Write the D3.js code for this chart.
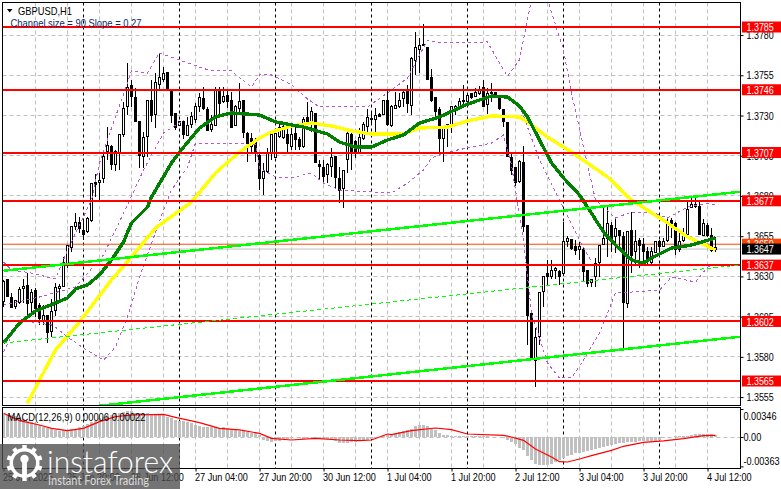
<!DOCTYPE html>
<html><head><meta charset="utf-8"><title>GBPUSD,H1</title>
<script src="https://cdnjs.cloudflare.com/ajax/libs/d3/7.8.5/d3.min.js"></script>
<style>html,body{margin:0;padding:0;background:#fff;overflow:hidden}svg{display:block}</style></head>
<body><div id="chart"></div>
<script>
const openP=[1.36143,1.36281,1.36170,1.36116,1.36136,1.36226,1.36246,1.36136,1.36211,1.36122,
1.36029,1.36055,1.35956,1.36086,1.36224,1.36239,1.36381,1.36481,1.36613,1.36634,
1.36588,1.36577,1.36646,1.36886,1.36882,1.36907,1.37074,1.37110,1.36996,1.37065,
1.37185,1.37355,1.37489,1.37413,1.37262,1.37044,1.37172,1.37396,1.37309,1.37490,
1.37524,1.37570,1.37458,1.37313,1.37239,1.37260,1.37177,1.37241,1.37276,1.37359,
1.37406,1.37338,1.37210,1.37239,1.37463,1.37384,1.37427,1.37396,1.37235,1.37344,
1.37392,1.37189,1.37158,1.37148,1.37054,1.36911,1.36951,1.37061,1.37040,1.37172,
1.37164,1.37185,1.37110,1.37189,1.37148,1.37106,1.37289,1.37255,1.37313,1.36998,
1.36978,1.36936,1.36982,1.37048,1.36911,1.36845,1.37027,1.37179,1.37139,1.37065,
1.37156,1.37230,1.37276,1.37276,1.37309,1.37305,1.37392,1.37235,1.37342,1.37355,
1.37405,1.37458,1.37363,1.37641,1.37713,1.37744,1.37724,1.37537,1.37413,1.37338,
1.37156,1.37241,1.37235,1.37334,1.37342,1.37396,1.37386,1.37438,1.37421,1.37434,
1.37475,1.37371,1.37442,1.37442,1.37413,1.37338,1.37257,1.37040,1.36978,1.36889,
1.37011,1.36619,1.36070,1.35780,1.35929,1.36205,1.36319,1.36302,1.36339,1.36333,
1.36319,1.36516,1.36530,1.36485,1.36468,1.36468,1.36339,1.36265,1.36298,1.36385,
1.36499,1.36537,1.36619,1.36547,1.36588,1.36551,1.36132,1.36588,1.36454,1.36526,
1.36501,1.36454,1.36385,1.36447,1.36515,1.36485,1.36526,1.36650,1.36630,1.36468,
1.36526,1.36563,1.36727,1.36750,1.36737,1.36557,1.36619,1.36557,1.36480];
const highP=[1.36277,1.36281,1.36198,1.36153,1.36232,1.36287,1.36319,1.36219,1.36226,1.36132,
1.36122,1.36060,1.36157,1.36257,1.36253,1.36418,1.36489,1.36613,1.36696,1.36667,
1.36650,1.36671,1.36878,1.36936,1.36940,1.37065,1.37230,1.37116,1.37085,1.37179,
1.37386,1.37624,1.37520,1.37469,1.37262,1.37199,1.37396,1.37520,1.37562,1.37686,
1.37603,1.37570,1.37458,1.37313,1.37260,1.37260,1.37293,1.37324,1.37375,1.37438,
1.37475,1.37355,1.37303,1.37475,1.37475,1.37475,1.37458,1.37448,1.37365,1.37500,
1.37392,1.37200,1.37189,1.37158,1.37065,1.37003,1.37096,1.37210,1.37199,1.37251,
1.37262,1.37262,1.37241,1.37241,1.37168,1.37289,1.37386,1.37351,1.37313,1.37023,
1.37023,1.37003,1.37096,1.37048,1.36982,1.36961,1.37210,1.37200,1.37148,1.37220,
1.37262,1.37338,1.37313,1.37344,1.37313,1.37396,1.37462,1.37365,1.37448,1.37438,
1.37462,1.37490,1.37661,1.37817,1.37780,1.37869,1.37724,1.37587,1.37417,1.37351,
1.37226,1.37241,1.37359,1.37363,1.37406,1.37487,1.37442,1.37442,1.37469,1.37483,
1.37520,1.37469,1.37500,1.37442,1.37427,1.37338,1.37257,1.37075,1.36982,1.37023,
1.37110,1.36619,1.36080,1.35977,1.36203,1.36302,1.36402,1.36402,1.36360,1.36339,
1.36640,1.36551,1.36530,1.36526,1.36515,1.36485,1.36339,1.36281,1.36413,1.36495,
1.36737,1.36733,1.36640,1.36661,1.36588,1.36577,1.36577,1.36702,1.36588,1.36537,
1.36537,1.36485,1.36485,1.36515,1.36526,1.36537,1.36661,1.36661,1.36640,1.36567,
1.36599,1.36764,1.36800,1.36800,1.36764,1.36654,1.36630,1.36599,1.36547];
const lowP=[1.36112,1.36178,1.36105,1.36099,1.36128,1.36132,1.36049,1.36080,1.36049,1.35997,
1.35997,1.35888,1.35925,1.36054,1.36153,1.36232,1.36350,1.36454,1.36588,1.36567,
1.36526,1.36567,1.36640,1.36795,1.36770,1.36878,1.37023,1.36961,1.36957,1.36961,
1.37168,1.37303,1.37355,1.37262,1.36971,1.36971,1.37044,1.37262,1.37220,1.37458,
1.37510,1.37458,1.37251,1.37210,1.37235,1.37152,1.37172,1.37220,1.37251,1.37324,
1.37334,1.37206,1.37200,1.37235,1.37303,1.37375,1.37344,1.37222,1.37235,1.37313,
1.37158,1.37013,1.37075,1.37013,1.36837,1.36806,1.36940,1.37023,1.37034,1.37158,
1.37156,1.37065,1.37085,1.37085,1.37085,1.37096,1.37241,1.37199,1.37003,1.36899,
1.36889,1.36878,1.36920,1.36847,1.36759,1.36725,1.36940,1.36961,1.37034,1.37065,
1.37148,1.37200,1.37241,1.37200,1.37289,1.37303,1.37235,1.37226,1.37342,1.37344,
1.37355,1.37313,1.37303,1.37552,1.37562,1.37732,1.37520,1.37386,1.37272,1.37065,
1.37013,1.37106,1.37189,1.37303,1.37334,1.37355,1.37386,1.37404,1.37417,1.37427,
1.37359,1.37309,1.37386,1.37413,1.37334,1.37230,1.37044,1.36930,1.36862,1.36878,
1.36577,1.35873,1.35790,1.35610,1.35873,1.36112,1.36246,1.36287,1.36287,1.36246,
1.36302,1.36485,1.36464,1.36433,1.36402,1.36267,1.36236,1.36232,1.36236,1.36298,
1.36495,1.36422,1.36454,1.36443,1.36485,1.35847,1.36102,1.36319,1.36370,1.36350,
1.36392,1.36370,1.36376,1.36443,1.36454,1.36480,1.36515,1.36537,1.36433,1.36454,
1.36515,1.36563,1.36723,1.36723,1.36557,1.36551,1.36547,1.36454,1.36454];
const closeP=[1.36267,1.36178,1.36109,1.36153,1.36219,1.36236,1.36132,1.36203,1.36101,1.36037,
1.36060,1.35950,1.36082,1.36232,1.36236,1.36388,1.36489,1.36613,1.36634,1.36597,
1.36563,1.36661,1.36878,1.36874,1.36899,1.37048,1.37116,1.36998,1.37075,1.37179,
1.37344,1.37475,1.37421,1.37262,1.37054,1.37164,1.37392,1.37303,1.37504,1.37537,
1.37558,1.37463,1.37303,1.37228,1.37260,1.37185,1.37239,1.37293,1.37355,1.37413,
1.37342,1.37206,1.37247,1.37463,1.37375,1.37417,1.37386,1.37226,1.37359,1.37386,
1.37193,1.37127,1.37106,1.37061,1.36909,1.36949,1.37065,1.37179,1.37189,1.37226,
1.37230,1.37123,1.37179,1.37152,1.37106,1.37276,1.37255,1.37324,1.37007,1.36982,
1.36924,1.36998,1.37040,1.36916,1.36833,1.36957,1.37189,1.37065,1.37069,1.37164,
1.37247,1.37289,1.37280,1.37297,1.37293,1.37392,1.37241,1.37359,1.37363,1.37396,
1.37446,1.37375,1.37655,1.37724,1.37738,1.37732,1.37524,1.37392,1.37324,1.37160,
1.37226,1.37220,1.37355,1.37355,1.37388,1.37392,1.37427,1.37409,1.37446,1.37463,
1.37359,1.37438,1.37434,1.37413,1.37342,1.37262,1.37044,1.36961,1.36882,1.37015,
1.36609,1.36054,1.35790,1.35920,1.36198,1.36302,1.36302,1.36339,1.36348,1.36302,
1.36520,1.36537,1.36474,1.36464,1.36485,1.36329,1.36253,1.36281,1.36381,1.36489,
1.36537,1.36630,1.36530,1.36599,1.36557,1.36136,1.36577,1.36433,1.36516,1.36489,
1.36454,1.36392,1.36454,1.36515,1.36485,1.36520,1.36636,1.36613,1.36468,1.36515,
1.36563,1.36717,1.36750,1.36733,1.36561,1.36630,1.36557,1.36462,1.36467];

const greenBars=[0,4,8,12,16,18,21,24,27,30,32,36,37,42,44,49,53,57,64,68,75,81,84,88,92,96,100,104,109,116,122,126,129,131,134,137,140,144,146,150,153,157,160,162,167,172,178];
const greenMA=[1.35886,1.36010,1.36085,1.36125,1.36166,1.36222,1.36247,1.36309,1.36402,1.36514,1.36632,1.36731,1.36793,1.37005,1.37073,1.37222,1.37291,1.37316,1.37303,1.37260,1.37228,1.37185,1.37135,1.37104,1.37104,1.37148,1.37179,1.37253,1.37291,1.37371,1.37421,1.37415,1.37359,1.37291,1.37148,1.37005,1.36912,1.36806,1.36731,1.36576,1.36495,1.36402,1.36383,1.36414,1.36476,1.36495,1.36539];
const yellowBars=[6,9,13,19,27,32,38,47,53,59,64,67,72,77,82,87,92,100,104,111,116,122,129,131,136,142,151,157,166,171,178];
const yellowMA=[1.35513,1.35656,1.35843,1.36017,1.36278,1.36421,1.36601,1.36762,1.36943,1.37073,1.37160,1.37197,1.37235,1.37253,1.37235,1.37204,1.37185,1.37185,1.37222,1.37228,1.37266,1.37297,1.37291,1.37260,1.37166,1.37073,1.36918,1.36775,1.36632,1.36545,1.36464];
const upperBars=[0,2,7,13,16,22,24,27,31,32,36,39,44,49,52,57,62,64,67,72,76,79,86,91,97,101,106,109,121,124,126,129,132,136,140,142,145,148,150,153,157,162,166,171,176,178];
const upperBand=[1.36390,1.36340,1.36321,1.36284,1.36464,1.36775,1.37005,1.37222,1.37502,1.37577,1.37564,1.37688,1.37645,1.37601,1.37577,1.37577,1.37477,1.37552,1.37552,1.37490,1.37403,1.37353,1.37359,1.37353,1.37458,1.37533,1.37769,1.37751,1.37757,1.37626,1.37545,1.37645,1.38020,1.38020,1.37707,1.37440,1.37104,1.36775,1.36731,1.36663,1.36700,1.36700,1.36663,1.36731,1.36756,1.36744];
const lowerBars=[0,4,12,13,16,20,25,28,31,34,40,42,46,48,54,57,63,64,68,72,77,80,84,92,97,101,105,107,111,116,122,125,127,130,132,136,139,142,145,149,153,157,164,167,173,176,178];
const lowerBand=[1.35830,1.36029,1.35998,1.35985,1.35923,1.35855,1.35780,1.35861,1.36048,1.36296,1.36713,1.36837,1.36980,1.37129,1.37129,1.37129,1.37117,1.36974,1.36918,1.36912,1.36943,1.36880,1.36837,1.36825,1.36818,1.36880,1.36961,1.37036,1.37073,1.37098,1.37129,1.37179,1.36992,1.36526,1.36073,1.35762,1.35669,1.35669,1.35780,1.35948,1.36197,1.36203,1.36215,1.36296,1.36265,1.36358,1.36371];
const middleBarsA=[0,9,18,25,31,35,40,45];
const middleBandA=[1.36122,1.36172,1.36234,1.36433,1.36744,1.36961,1.37191,1.37272];
const middleBarsB=[129,134,139,144,147];
const middleBandB=[1.37365,1.37023,1.36775,1.36526,1.36390];

const channelBars=[0,184.125];
const channelTop=[1.36335,1.36826];
const channelMid=[1.35886,1.36371];
const channelLow=[1.35432,1.35925];

const levelPrices=[1.3785,1.3746,1.3707,1.3677,1.3637,1.3602,1.3565];
const askPrice=1.3650, bidPrice=1.3647;
const priceTicks=[1.3780,1.3755,1.3730,1.3705,1.3680,1.3655,1.3630,1.3605,1.3580,1.3555];
const gridBars=[8,16,24,32,40,48,56,64,72,80,88,96,104,112,120,128,136,144,152,160,168,176];
const daySepBars=[20,44,68,92,116,140,164];
const timeBars=[0,16,32,48,64,80,96,112,128,144,160,176];
const timeLabels=["25 Jun 2025","25 Jun 20:00","26 Jun 12:00","27 Jun 04:00","27 Jun 20:00","30 Jun 12:00","1 Jul 04:00","1 Jul 20:00","2 Jul 12:00","3 Jul 04:00","3 Jul 20:00","4 Jul 12:00"];

// MACD histogram, one value per bar, in units of 0.00001
const macdHist=[284,276,268,260,243,218,202,185,161,144,128,111,95,87,78,87,87,95,103,128,
136,161,185,202,235,251,268,276,293,301,309,325,325,301,301,284,293,284,284,268,
268,251,235,210,202,194,185,177,152,136,128,119,119,119,111,119,111,103,87,78,
78,62,54,45,29,-37,-54,-62,-54,-45,-29,-29,-12,-4,-12,-21,-12,-4,-21,-21,
-21,-29,-37,-54,-70,-78,-70,-62,-62,-54,-45,-37,-21,-4,-4,21,29,33,54,62,
70,91,103,132,144,148,136,115,82,49,29,21,16,8,16,12,8,12,8,12,
8,8,4,4,0,-12,-37,-66,-91,-136,-157,-239,-288,-334,-346,-350,-342,-330,-309,-284,
-260,-239,-222,-202,-194,-185,-173,-161,-148,-136,-124,-111,-99,-87,-78,-74,-66,-62,-58,-54,
-54,-49,-49,-49,-41,-12,-4,0,8,8,8,16,29,41,41,41,41,37,29];
const macdBars=[0,4,9,12,16,20,24,28,32,40,43,49,54,59,64,67,72,78,84,89,92,96,97,102,108,112,116,125,127,130,133,137,139,141,144,147,152,155,160,165,170,175,178];
const macdSignal=[293,202,148,107,78,107,190,251,272,280,243,177,107,87,45,-16,-37,-16,-37,-45,-37,37,29,78,111,91,37,21,0,-41,-148,-247,-305,-309,-272,-231,-165,-115,-66,-49,-21,16,21];
const macdTicks=[0.00346,0,-0.00363];
const macdTickLabels=["0.00346","0.00","-0.00363"];

const W=781,H=489;
const paneL=2.5,paneR=740.5,paneT=2.5,paneB=405.5,macdT=407.5,macdB=468.5;
const svg=d3.select("#chart").append("svg").attr("width",W).attr("height",H).attr("viewBox",[0,0,W,H]);
const FONT='"Liberation Sans",Arial,sans-serif';
const x=d3.scaleLinear().domain([0,184.125]).range([3.5,740]);
const y=d3.scaleLinear().domain([1.3785,1.3565]).range([27,381]);
const ym=d3.scaleLinear().domain([0,0.00346]).range([437,409]);

// narrows real text horizontally, as the terminal's compact UI font does
const squeeze=(sel,ratio)=>sel.each(function(){
 const w=this.getComputedTextLength();
 d3.select(this).attr("textLength",w*ratio).attr("lengthAdjust","spacingAndGlyphs");
});

svg.append("defs").append("clipPath").attr("id","cMain").append("rect").attr("x",paneL).attr("y",paneT).attr("width",paneR-paneL).attr("height",paneB-paneT);
svg.select("defs").append("clipPath").attr("id","cMacd").append("rect").attr("x",paneL).attr("y",macdT).attr("width",paneR-paneL).attr("height",macdB-macdT);

const snap=v=>Math.floor(v)+0.5;
const main=svg.append("g").attr("clip-path","url(#cMain)");
const macd=svg.append("g").attr("clip-path","url(#cMacd)");

// grids
main.selectAll("line.hg").data(priceTicks).join("line").attr("x1",paneL).attr("x2",paneR)
 .attr("y1",d=>snap(y(d))).attr("y2",d=>snap(y(d))).attr("stroke","#c0c0c0").attr("stroke-dasharray","4,3");
[[main,paneT,paneB],[macd,macdT,macdB]].forEach(([g,a,b])=>{
 g.selectAll("line.vg").data(gridBars).join("line").attr("class","vg").attr("x1",d=>snap(x(d))).attr("x2",d=>snap(x(d)))
  .attr("y1",a).attr("y2",b).attr("stroke","#c0c0c0").attr("stroke-dasharray","4,3");
 g.selectAll("line.ds").data(daySepBars).join("line").attr("class","ds").attr("x1",d=>snap(x(d))).attr("x2",d=>snap(x(d)))
  .attr("y1",a).attr("y2",b).attr("stroke","#000").attr("stroke-dasharray","3,3");
});
macd.append("line").attr("x1",paneL).attr("x2",paneR).attr("y1",snap(ym(0))).attr("y2",snap(ym(0))).attr("stroke","#c0c0c0").attr("stroke-dasharray","4,3");

// ask / bid lines
main.append("line").attr("x1",paneL).attr("x2",paneR).attr("y1",y(bidPrice)).attr("y2",y(bidPrice)).attr("stroke","#c0c0c0");
main.append("line").attr("x1",paneL).attr("x2",paneR).attr("y1",y(askPrice)).attr("y2",y(askPrice)).attr("stroke","#ff4500");

// candles
const bars=d3.range(openP.length);
main.append("g").attr("shape-rendering","crispEdges").selectAll("line").data(bars).join("line")
 .attr("x1",d=>snap(x(d))).attr("x2",d=>snap(x(d))).attr("y1",d=>y(highP[d])).attr("y2",d=>y(lowP[d])).attr("stroke","#000");
main.append("g").attr("shape-rendering","crispEdges").selectAll("rect").data(bars).join("rect")
 .attr("x",d=>snap(x(d))-1).attr("width",2)
 .attr("y",d=>y(Math.max(openP[d],closeP[d])))
 .attr("height",d=>Math.max(1,Math.abs(y(openP[d])-y(closeP[d]))))
 .attr("fill",d=>closeP[d]>=openP[d]?"#fff":"#000").attr("stroke","#000");

// overlays
const path=(bs,vs,sc)=>d3.line().x((d,i)=>x(bs[i])).y(d=>sc(d))(vs);
[[upperBars,upperBand],[lowerBars,lowerBand],[middleBarsA,middleBandA],[middleBarsB,middleBandB]].forEach(([b,v])=>{
 main.append("path").attr("d",path(b,v,y)).attr("fill","none").attr("stroke","#ba55d3").attr("stroke-dasharray","3,3").attr("shape-rendering","crispEdges");
});
main.append("path").attr("d",path(yellowBars,yellowMA,y)).attr("fill","none").attr("stroke","#ffff00").attr("stroke-width",3.4).attr("shape-rendering","crispEdges");
main.append("path").attr("d",path(greenBars,greenMA,y)).attr("fill","none").attr("stroke","#008000").attr("stroke-width",3.4).attr("shape-rendering","crispEdges");

// levels
main.selectAll("line.lv").data(levelPrices).join("line").attr("x1",paneL).attr("x2",paneR)
 .attr("y1",d=>y(d)).attr("y2",d=>y(d)).attr("stroke","#ff0000").attr("stroke-width",2).attr("shape-rendering","crispEdges");

// channel
[channelTop,channelLow].forEach(v=>main.append("path").attr("d",path(channelBars,v,y)).attr("fill","none").attr("stroke","#00ff00").attr("stroke-width",2.5).attr("shape-rendering","crispEdges"));
main.append("path").attr("d",path(channelBars,channelMid,y)).attr("fill","none").attr("stroke","#00ff00").attr("stroke-dasharray","4,3").attr("shape-rendering","crispEdges");

// MACD
macd.append("g").attr("shape-rendering","crispEdges").selectAll("rect").data(macdHist).join("rect")
 .attr("x",(d,i)=>snap(x(i))-1.5).attr("width",3)
 .attr("y",d=>Math.min(ym(d/1e5),ym(0))).attr("height",d=>Math.abs(ym(d/1e5)-ym(0)))
 .attr("fill","#c0c0c0");
macd.append("path").attr("d",path(macdBars,macdSignal.map(v=>v/1e5),ym)).attr("fill","none").attr("stroke","#ff0000").attr("stroke-width",1.2);

// frames
[[paneT,paneB],[macdT,macdB]].forEach(([a,b])=>svg.append("rect").attr("x",paneL).attr("y",a).attr("width",paneR-paneL).attr("height",b-a).attr("fill","none").attr("stroke","#000").attr("shape-rendering","crispEdges"));

// axes
const axR=d3.axisRight(y).tickValues(priceTicks).tickFormat(d3.format(".4f")).tickSize(3).tickPadding(3);
const gR=svg.append("g").attr("transform",`translate(${paneR},0)`).call(axR);
gR.select(".domain").remove();
gR.selectAll("text").attr("font-family",FONT).attr("font-size",11).attr("fill","#000").call(squeeze,0.81);
gR.selectAll("line").attr("stroke","#000");

const axM=d3.axisRight(ym).tickValues(macdTicks).tickFormat((d,i)=>macdTickLabels[i]).tickSize(3).tickPadding(0);
const gM=svg.append("g").attr("transform",`translate(${paneR},0)`).call(axM);
gM.select(".domain").remove();
gM.selectAll("text").attr("font-family",FONT).attr("font-size",11).attr("fill","#000").attr("dy",(d,i)=>i==0?"0.95em":i==2?"-0.15em":"0.32em").call(squeeze,0.83);
gM.selectAll("line").attr("stroke","#000");

const axB=d3.axisBottom(x).tickValues(timeBars).tickFormat((d,i)=>timeLabels[i]).tickSize(3).tickPadding(2);
const gB=svg.append("g").attr("transform",`translate(0,${macdB})`).call(axB);
gB.select(".domain").remove();
gB.selectAll("text").attr("font-family",FONT).attr("font-size",11).attr("fill","#000").attr("text-anchor","start").attr("dx",-1).call(squeeze,0.83);
gB.selectAll("line").attr("stroke","#000");

// price tags
const tag=(p,fill,cy,h,label)=>{
 svg.append("rect").attr("x",742).attr("y",cy-h/2).attr("width",39).attr("height",h).attr("fill",fill);
 if(label) svg.append("text").attr("x",746.5).attr("y",cy+0.5).attr("dy","0.34em").attr("font-family",FONT).attr("font-size",11).attr("fill","#fff").text(label).call(squeeze,0.81);
};
levelPrices.forEach(p=>tag(p,"#ff0000",y(p),11,d3.format(".4f")(p)));
tag(askPrice,"#ff4500",y(askPrice),11,d3.format(".4f")(askPrice));
tag(bidPrice,"#000",y(bidPrice),11,d3.format(".4f")(bidPrice));

// titles
svg.append("path").attr("d",d3.line()([[7,9],[12.5,9],[9.7,12.5]])+"Z").attr("fill","#000");
svg.append("text").attr("x",18).attr("y",14.5).attr("font-family",FONT).attr("font-size",11).attr("fill","#000").attr("textLength",54).attr("lengthAdjust","spacingAndGlyphs").text("GBPUSD,H1");
svg.append("text").attr("x",10.5).attr("y",27).attr("font-family",FONT).attr("font-size",11).attr("fill","#0a2a6a").attr("textLength",131).attr("lengthAdjust","spacingAndGlyphs").text("Channel size = 90 Slope = 0.27");
svg.append("text").attr("x",7.5).attr("y",421).attr("font-family",FONT).attr("font-size",11).attr("fill","#000").attr("textLength",138).attr("lengthAdjust","spacingAndGlyphs").text("MACD(12,26,9) 0.00006 0.00022");

// watermark
const wm=svg.append("g");
wm.append("rect").attr("x",0).attr("y",444).attr("width",180).attr("height",45).attr("fill","#4d4d4d").attr("opacity",0.78);
const gear=wm.append("g").attr("transform","translate(24.5,463)").attr("fill","#fff");
gear.append("path").attr("d",d3.arc()({innerRadius:11.5,outerRadius:15,startAngle:0,endAngle:2*Math.PI}));
d3.range(10).forEach(i=>gear.append("rect").attr("x",-2.2).attr("y",-18).attr("width",4.4).attr("height",5).attr("transform",`rotate(${i*36})`));
gear.append("circle").attr("cy",-4).attr("r",4.2);
gear.append("rect").attr("x",-2.4).attr("y",-1).attr("width",4.8).attr("height",13);
wm.append("text").attr("x",47).attr("y",473).attr("font-family","Lato,sans-serif").attr("font-weight",300).attr("font-size",31).attr("fill","#fff").attr("textLength",126).attr("lengthAdjust","spacingAndGlyphs").text("instaforex");
wm.append("text").attr("x",48).attr("y",485).attr("font-family","Lato,sans-serif").attr("font-size",13.5).attr("fill","#fff").attr("fill-opacity",0.75).attr("textLength",101).attr("lengthAdjust","spacingAndGlyphs").text("Instant Forex Trading");
</script></body></html>
